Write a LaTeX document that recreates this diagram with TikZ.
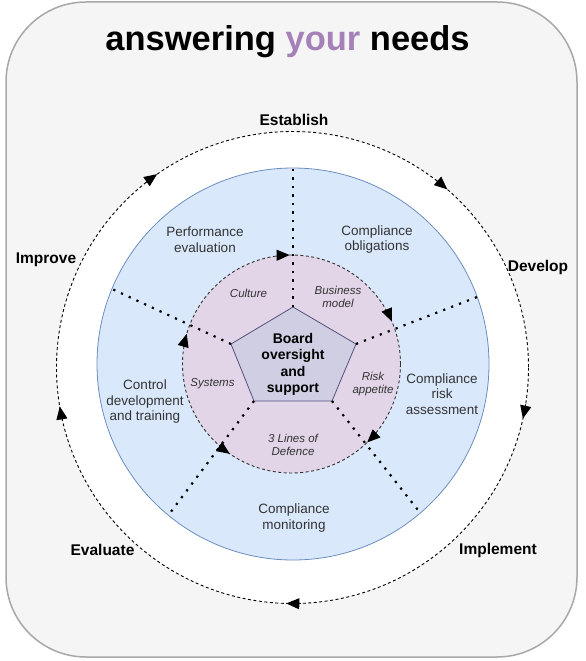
\documentclass[tikz,border=0pt]{standalone}
\usepackage{fontspec}
\setmainfont{Liberation Sans}
\usetikzlibrary{arrows.meta,calc}
\definecolor{boxgray}{HTML}{F5F5F5}
\definecolor{boxline}{HTML}{A8A8A8}
\definecolor{blfill}{HTML}{DAE8FC}
\definecolor{blline}{HTML}{6C8EBF}
\definecolor{pkfill}{HTML}{E1D5E7}
\definecolor{pgfill}{HTML}{D0CEE2}
\definecolor{pgline}{HTML}{56517E}
\definecolor{purp}{HTML}{A680B8}
\definecolor{txt}{HTML}{333333}

\tikzset{
  steplabel/.style={font=\fontsize{15.5}{18}\selectfont\bfseries},
  seglabel/.style={align=center,text=txt,font=\fontsize{13.5}{15.5}\selectfont},
  sublabel/.style={align=center,text=txt,font=\fontsize{11.5}{13.5}\selectfont\itshape},
  spoke/.style={line width=2.2pt,dash pattern=on 2.2pt off 6.3pt},
  ring/.style={line width=0.9pt,dash pattern=on 3pt off 2.5pt},
  tip/.style={-{Triangle[length=13pt,width=11pt]}}
}

\begin{document}
\begin{tikzpicture}[x=1pt,y=-1pt]
\useasboundingbox (0,0) rectangle (586,661);
\draw[boxline,fill=boxgray,line width=1.5pt,rounded corners=80pt] (6,2) rectangle (577,657);
\node[anchor=base,font=\fontsize{34.5}{40}\selectfont\bfseries] (title) at (287.5,51) {answering {\color{purp}your} needs};

% outer cycle
\coordinate (c) at (292.5,367.5);
\draw[ring,fill=white] (c) circle[radius=236];
\draw[ring,tip] ($(c)+(-128.5:236)$) arc[start angle=-128.5,end angle=-125,radius=236];
\draw[ring,tip] ($(c)+(-52.5:236)$) arc[start angle=-52.5,end angle=-49,radius=236];
\draw[ring,tip] ($(c)+(9:236)$) arc[start angle=9,end angle=12.5,radius=236];
\draw[ring,tip] ($(c)+(88:236)$) arc[start angle=88,end angle=91.5,radius=236];
\draw[ring,tip] ($(c)+(167:236)$) arc[start angle=167,end angle=170.5,radius=236];

\node[steplabel] (est) at (294,120) {Establish};
\node[steplabel] (dev) at (538,267) {Develop};
\node[steplabel] (imp) at (498,550) {Implement};
\node[steplabel] (eva) at (102.5,550) {Evaluate};
\node[steplabel] (imv) at (46,260) {Improve};

% blue ring
\coordinate (b) at (293,364);
\draw[blline,fill=blfill,line width=0.8pt] (b) circle[radius=196];

% pink ring
\coordinate (pc) at (291.5,364);
\draw[ring,draw=txt,fill=pkfill] (pc) circle[radius=109];
\draw[ring,draw=black,tip] ($(pc)+(-98:109)$) arc[start angle=-98,end angle=-91,radius=109];
\draw[ring,draw=black,tip] ($(pc)+(-30:109)$) arc[start angle=-30,end angle=-23,radius=109];
\draw[ring,draw=black,tip] ($(pc)+(39:109)$) arc[start angle=39,end angle=46,radius=109];
\draw[ring,draw=black,tip] ($(pc)+(131.5:109)$) arc[start angle=131.5,end angle=124.5,radius=109];
\draw[ring,draw=black,tip] ($(pc)+(189:109)$) arc[start angle=189,end angle=196,radius=109];

% pentagon
\coordinate (p1) at (293,307);
\coordinate (p2) at (356,344);
\coordinate (p3) at (332,401);
\coordinate (p4) at (254,401);
\coordinate (p5) at (231,344);
\draw[pgline,fill=pgfill,line width=0.8pt] (p1) -- (p2) -- (p3) -- (p4) -- (p5) -- cycle;
\node[align=center,font=\fontsize{14}{16.3}\selectfont\bfseries] (board) at (293,364.5) {Board\\oversight\\and\\support};

% spokes
\coordinate (q1) at ($(b)+(-90:196)$);
\coordinate (q2) at ($(b)+(-20:196)$);
\coordinate (q3) at ($(b)+(49.5:197)$);
\coordinate (q4) at ($(b)+(129.5:196)$);
\coordinate (q5) at ($(b)+(202.5:195)$);
\draw[spoke] (p1) -- (q1);
\draw[spoke] (p2) -- (q2);
\draw[spoke] (p3) -- (q3);
\draw[spoke] (p4) -- (q4);
\draw[spoke] (p5) -- (q5);

\node[seglabel] (perf) at (205,239.5) {Performance\\evaluation};
\node[seglabel] (oblig) at (377,239.5) {Compliance\\obligations};
\node[seglabel] (risk) at (442,394) {Compliance\\risk\\assessment};
\node[seglabel] (monit) at (294,518) {Compliance\\monitoring};
\node[seglabel] (ctrl) at (145,402) {Control\\development\\and training};

\node[sublabel] (cult) at (248.5,293.5) {Culture};
\node[sublabel] (busi) at (338,297) {Business\\model};
\node[sublabel] (appet) at (373,384) {Risk\\appetite};
\node[sublabel] (lines) at (293,445) {3 Lines of\\Defence};
\node[sublabel] (syst) at (212.5,384) {Systems};
\end{tikzpicture}
\end{document}
